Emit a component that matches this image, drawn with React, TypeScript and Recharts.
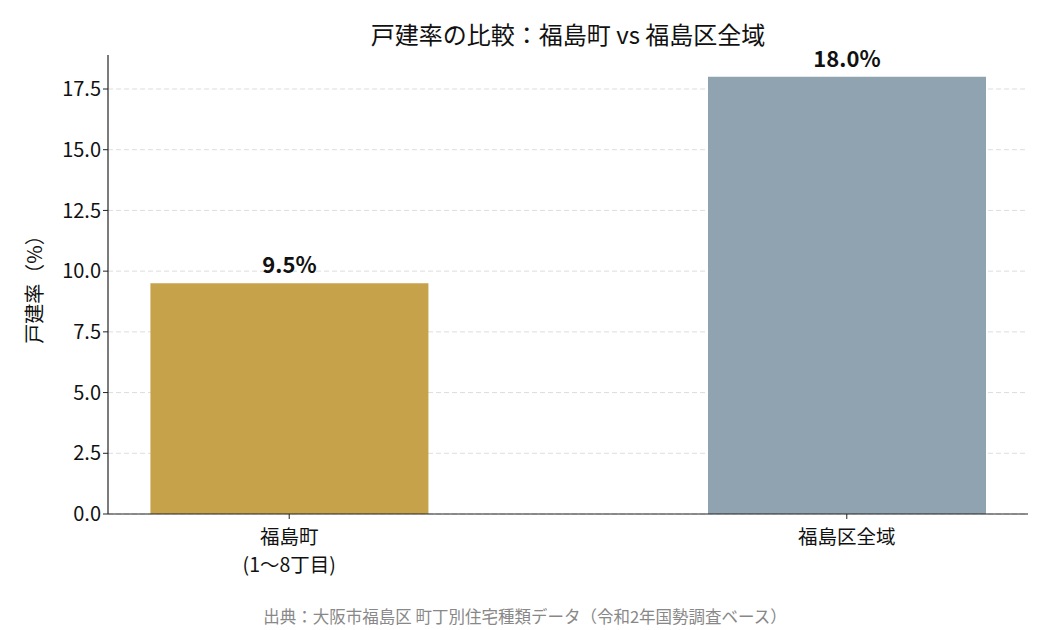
import { Bar, BarChart, XAxis, YAxis, CartesianGrid, LabelList, Cell } from "recharts"

const categories = ["福島町\n(1〜8丁目)", "福島区全域"]
const rates = [9.5, 18.0]
const barColors = ["#C6A24B", "#8FA3B0"]
const yTicks = [0, 2.5, 5, 7.5, 10, 12.5, 15, 17.5]

const data = categories.map((name, i) => ({ x: i, name, value: rates[i] }))

const FONT = "'Noto Sans CJK JP', 'Noto Sans', sans-serif"

function CategoryTick(props: any) {
  const { x, y, payload } = props
  const lines = categories[payload.value].split("\n")
  return (
    <g>
      {lines.map((line, i) => (
        <text
          key={i}
          x={x}
          y={y + 23 + i * 28}
          textAnchor="middle"
          fontSize={19.5}
          fill="#111"
          fontFamily={FONT}
        >
          {line}
        </text>
      ))}
    </g>
  )
}

export default function App() {
  return (
    <div style={{ position: "relative", width: 1050, height: 630, background: "#fff", fontFamily: FONT }}>
      <style>{`body{margin:0}`}</style>
      <div
        style={{
          position: "absolute",
          left: 108,
          width: 920,
          top: 16,
          textAlign: "center",
          fontSize: 24,
          color: "#111",
        }}
      >
        戸建率の比較：福島町 vs 福島区全域
      </div>
      <BarChart width={1050} height={630} data={data} margin={{ top: 55, right: 22, bottom: 86, left: 0 }}>
        <CartesianGrid
          vertical={false}
          horizontalValues={yTicks}
          stroke="#dddddd"
          strokeDasharray="5 3"
        />
        <XAxis
          dataKey="x"
          type="number"
          domain={[-0.325, 1.325]}
          ticks={[0, 1]}
          allowDataOverflow
          tick={<CategoryTick />}
          tickLine={{ stroke: "#222" }}
          tickSize={5}
          axisLine={{ stroke: "#222", strokeWidth: 1.2 }}
        />
        <YAxis
          width={108}
          domain={[0, 18.9]}
          ticks={yTicks}
          allowDataOverflow
          tickFormatter={(v: number) => v.toFixed(1)}
          tick={{ fontSize: 20, fill: "#111", fontFamily: FONT }}
          tickLine={{ stroke: "#222" }}
          tickSize={5}
          axisLine={{ stroke: "#222", strokeWidth: 1.2 }}
          label={{
            content: () => (
              <text
                x={33}
                y={284.5}
                transform="rotate(-90 33 284.5)"
                textAnchor="middle"
                dominantBaseline="central"
                fontSize={20}
                fill="#111"
                fontFamily={FONT}
              >
                戸建率（%）
              </text>
            ),
          }}
        />
        <Bar dataKey="value" barSize={278} isAnimationActive={false}>
          {data.map((d, i) => (
            <Cell key={d.name} fill={barColors[i]} />
          ))}
          <LabelList
            dataKey="value"
            position="top"
            offset={10}
            formatter={(v: any) => `${Number(v).toFixed(1)}%`}
            style={{ fontSize: 22, fontWeight: 700, fill: "#111", fontFamily: FONT }}
          />
        </Bar>
      </BarChart>
      <div
        style={{
          position: "absolute",
          left: 0,
          width: 1050,
          top: 604,
          textAlign: "center",
          fontSize: 16.5,
          color: "#888",
        }}
      >
        出典：大阪市福島区 町丁別住宅種類データ（令和2年国勢調査ベース）
      </div>
    </div>
  )
}
